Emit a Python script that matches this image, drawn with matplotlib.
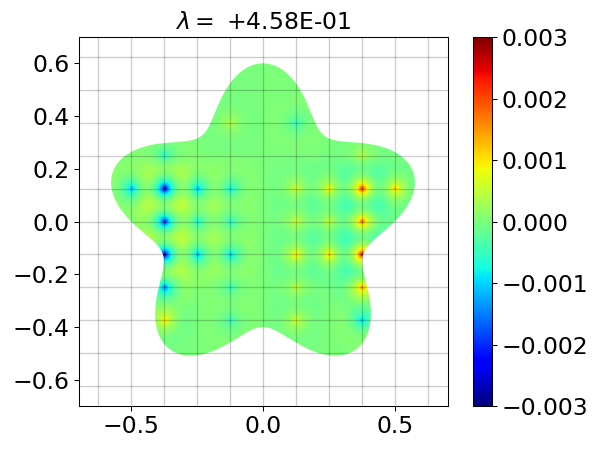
import numpy as np
import matplotlib
matplotlib.use('Agg')
import matplotlib.pyplot as plt
from matplotlib.path import Path
from matplotlib.patches import PathPatch

plt.rcParams['font.size'] = 18

# eigenvalue shown in the title
lam = 4.58e-01

# star shaped domain r(theta) = r0 + dr*sin(5 theta)
r0 = 0.5
dr = 0.1

# nodal spots on the 0.125 grid: grid index (i, j) and peak value (x 1e-3)
h = 0.125
spot_i = [-4, -3, -2, -1, 1, 2, 3, 4,
          -3, 3,
          -1, 1,
          -3, -2, -1, 1, 2, 3,
          -3, -2, -1, 1, 2, 3,
          -3, -1, 1, 3,
          -3, -1, 1, 3]
spot_j = [1, 1, 1, 1, 1, 1, 1, 1,
          2, 2,
          3, 3,
          0, 0, 0, 0, 0, 0,
          -1, -1, -1, -1, -1, -1,
          -2, -2, -2, -2,
          -3, -3, -3, -3]
spot_amp = [-1.5, -3.0, -1.5, -1.0, 0.8, 1.2, 2.6, 1.5,
            -0.8, 0.6,
            0.5, -0.6,
            -2.6, -1.0, -0.8, 0.8, 0.8, 2.2,
            -3.0, -1.5, -1.3, 1.3, 1.5, 3.0,
            -1.8, -0.6, 0.6, 1.8,
            1.2, -0.6, 0.8, -1.2]

vmin, vmax = -0.003, 0.003

fig = plt.figure(figsize=(6.4, 4.8), dpi=93.75)
ax = fig.add_axes([78/600, 44/450, 370/600, 369/450])
cax = fig.add_axes([473/600, 44/450, 19/600, 369/450])

n = 700
xs = np.linspace(-0.7, 0.7, n)
X, Y = np.meshgrid(xs, xs)
F = np.zeros_like(X)
for i, j, a in zip(spot_i, spot_j, spot_amp):
    R = np.hypot(X - i*h, Y - j*h)
    F += a*1e-3*(0.65*np.exp(-R/0.01) + 0.35*np.exp(-(R/0.04)**2)
                 - 0.06*np.exp(-((R - 0.085)/0.035)**2))

im = ax.imshow(F, extent=(-0.7, 0.7, -0.7, 0.7), origin='lower', cmap='jet',
               vmin=vmin, vmax=vmax, interpolation='bilinear')
theta = np.linspace(0, 2*np.pi, 721)
r = r0 + dr*np.sin(5*theta)
path = Path(np.column_stack([r*np.cos(theta), r*np.sin(theta)]))
patch = PathPatch(path, fc='none', ec='none', transform=ax.transData)
ax.add_patch(patch)
im.set_clip_path(patch)

for k in range(-5, 6):
    ax.axvline(k*h, color='k', alpha=0.2, lw=1)
    ax.axhline(k*h, color='k', alpha=0.2, lw=1)

ax.set_xlim(-0.7, 0.7)
ax.set_ylim(-0.7, 0.7)
ax.set_aspect('equal')
ax.set_xticks([-0.5, 0.0, 0.5])
ax.set_yticks([-0.6, -0.4, -0.2, 0.0, 0.2, 0.4, 0.6])
ax.set_title(r'$\lambda=$ ' + '%+.2E' % lam, fontsize=18)

cb = fig.colorbar(im, cax=cax)
cb.set_ticks([-0.003, -0.002, -0.001, 0.0, 0.001, 0.002, 0.003])

fig.savefig('out.png', dpi=93.75)
